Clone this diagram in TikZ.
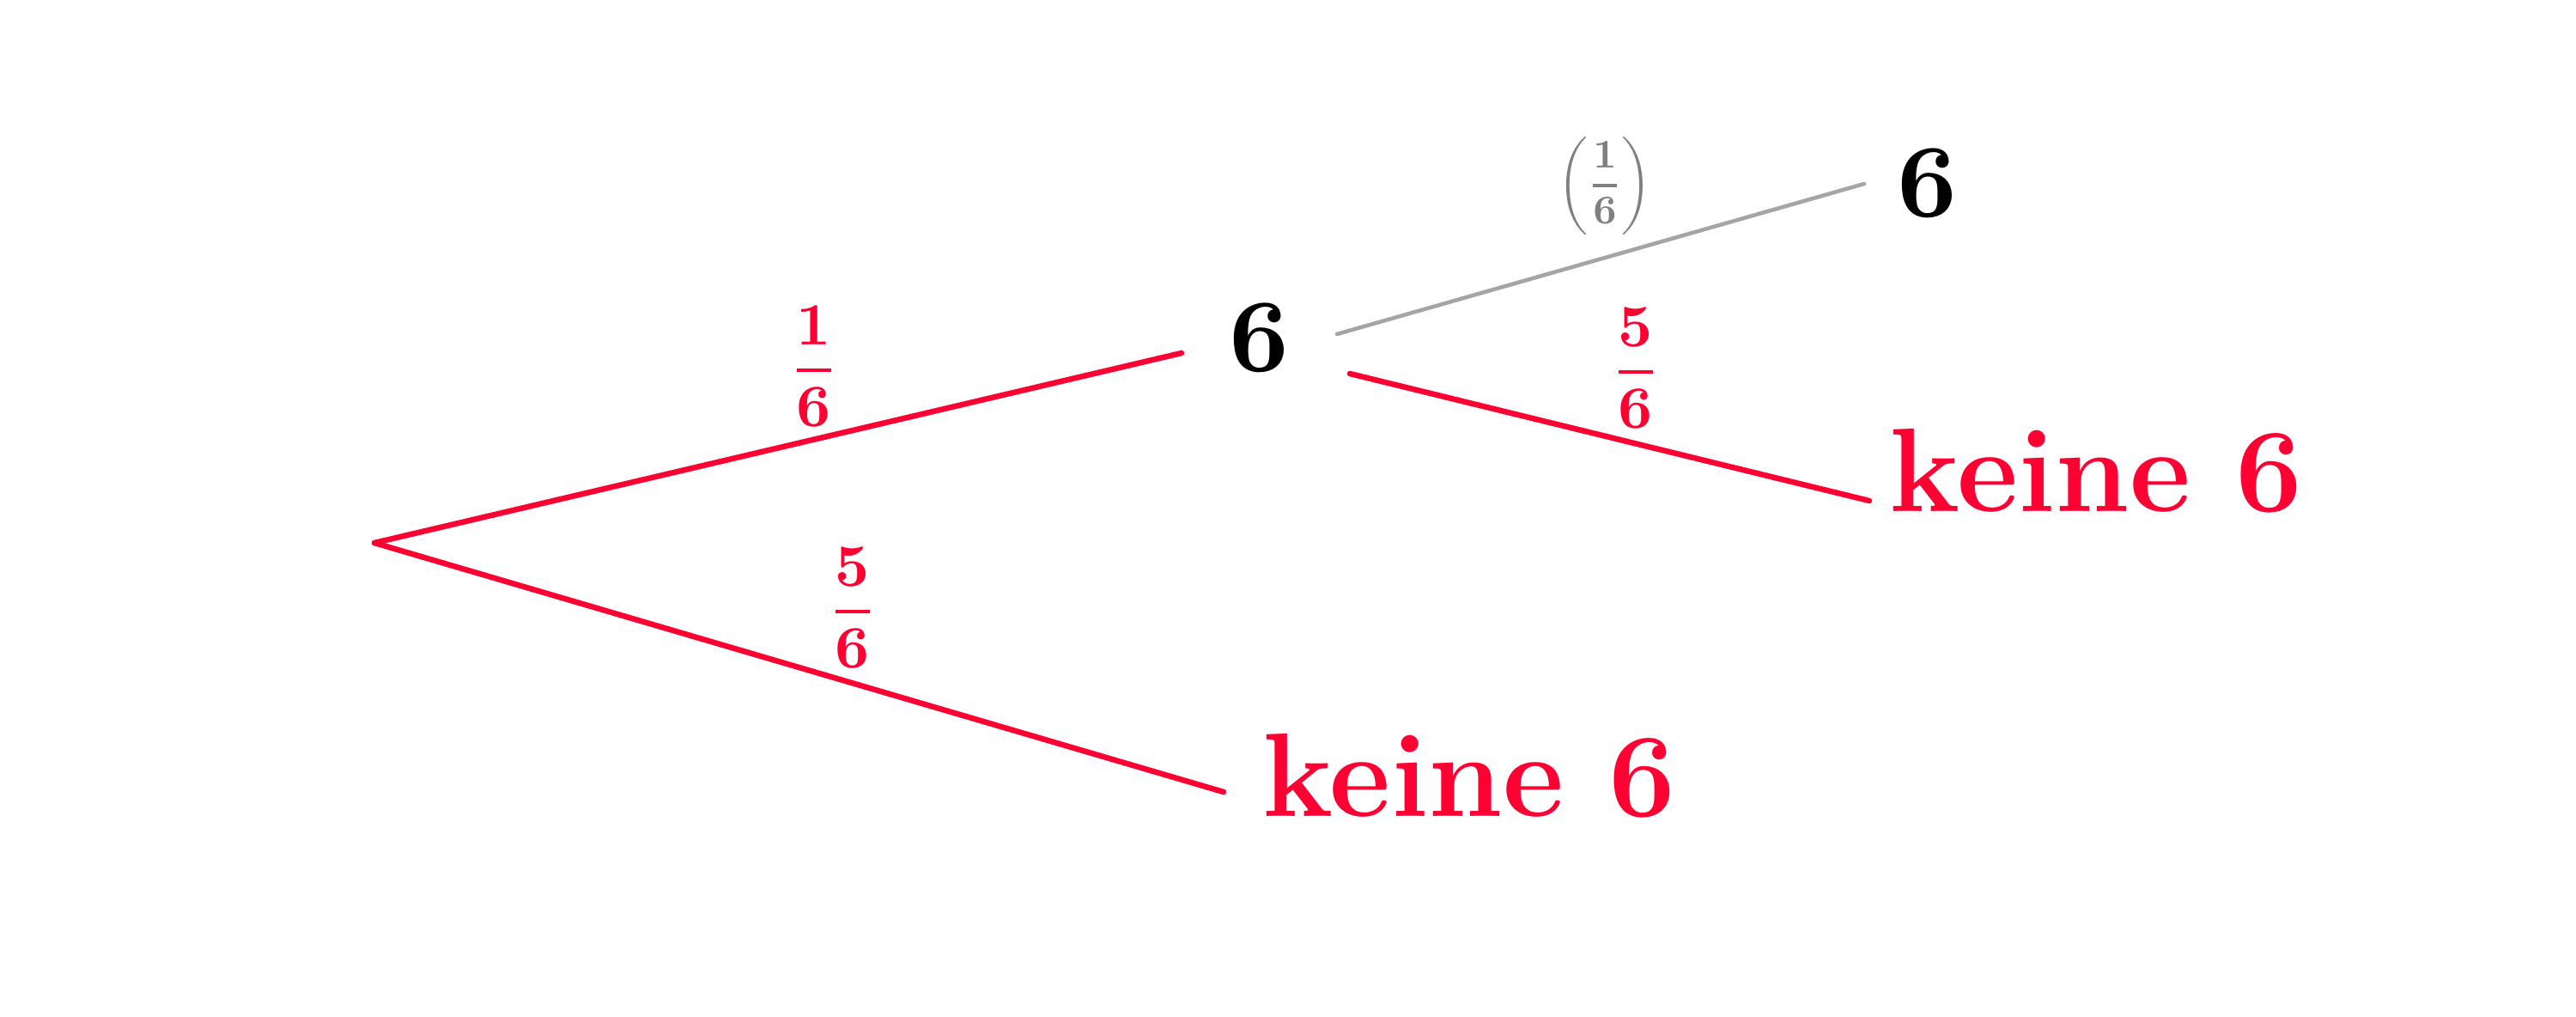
\documentclass[tikz,border=0pt]{standalone}
\definecolor{tred}{RGB}{255,0,51}
\definecolor{tgrey}{RGB}{128,128,128}
\definecolor{lgrey}{RGB}{165,165,165}
\tikzset{
  redline/.style={draw=tred, line width=1.85pt, line cap=round},
  greyline/.style={draw=lgrey, line width=1.3pt, line cap=round},
  digit/.style={scale=3.46, anchor=base, inner sep=0pt},
  frac/.style={scale=1.99, anchor=base, inner sep=0pt, text=tred},
  gfrac/.style={scale=1.35, anchor=base, inner sep=0pt, text=tgrey},
  bigtxt/.style={scale=2.74, anchor=base, inner sep=0pt, text=tred},
}
\begin{document}
\begin{tikzpicture}
\useasboundingbox (0,0) rectangle (30,-11.83);
% nodes
\node[digit] (n6) at (14.66,-4.32) {\bfseries 6};
\node[digit] (n66) at (22.44,-2.52) {\bfseries 6};
\node[bigtxt] (nk6) at (24.41,-5.95) {\Large\bfseries keine 6};
\node[bigtxt] (nk) at (17.11,-9.50) {\Large\bfseries keine 6};
\node[frac] (f1) at (9.48,-4.485) {$\displaystyle{\mathbf{1}\above0.55pt\mathbf{6}}$};
\node[frac] (f2) at (9.93,-7.295) {$\displaystyle{\mathbf{5}\above0.55pt\mathbf{6}}$};
\node[frac] (f3) at (19.05,-4.505) {$\displaystyle{\mathbf{5}\above0.55pt\mathbf{6}}$};
\node[gfrac] (f4) at (18.69,-2.28) {$\displaystyle\left({\mathbf{1}\above0.7pt\mathbf{6}}\right)$};
% connector ends
\coordinate (root) at (4.36,-6.32);
\coordinate (e1) at (13.76,-4.11);
\coordinate (e2) at (14.25,-9.22);
\coordinate (s3) at (15.57,-3.89);
\coordinate (e3) at (21.71,-2.14);
\coordinate (s4) at (15.72,-4.35);
\coordinate (e4) at (21.77,-5.83);
% connectors
\draw[redline] (root) -- (e1);
\draw[redline] (root) -- (e2);
\draw[greyline] (s3) -- (e3);
\draw[redline] (s4) -- (e4);
\end{tikzpicture}
\end{document}
